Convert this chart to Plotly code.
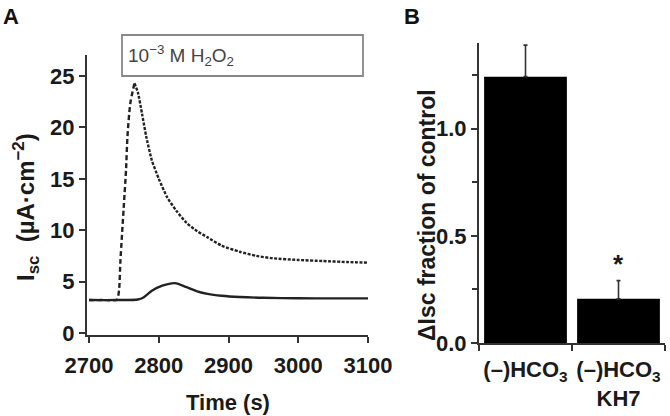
import plotly.graph_objects as go

# ---- Panel A data ----
h2o2_time = [2700, 2720, 2740, 2743, 2745, 2750, 2753, 2755, 2759, 2765, 2770, 2776, 2782,
             2790, 2800, 2812, 2825, 2840, 2855, 2870, 2890, 2916, 2940, 2963, 3000, 3035, 3070, 3100]
h2o2_isc = [3.2, 3.2, 3.25, 4.2, 7.1, 12.6, 15.9, 19.1, 22.3, 24.3, 23.4, 21.3, 19.1,
            16.8, 15.0, 13.2, 11.9, 10.7, 9.9, 9.3, 8.5, 7.9, 7.5, 7.27, 7.1, 7.0, 6.9, 6.84]
peak_index = 9

ctrl_time = [2700, 2740, 2770, 2778, 2790, 2805, 2823, 2840, 2855, 2870, 2890, 2916, 2950, 3000, 3050, 3100]
ctrl_isc = [3.2, 3.2, 3.25, 3.45, 4.1, 4.6, 4.85, 4.45, 4.05, 3.8, 3.62, 3.5, 3.42, 3.37, 3.36, 3.36]

# ---- Panel B data ----
cats = ["(–)HCO<sub>3</sub>", "(–)HCO<sub>3</sub><br>KH7"]
frac = [1.243, 0.206]
frac_err = [0.147, 0.085]

FONT = "Liberation Sans, Arial, sans-serif"
AX = "#333333"

fig = go.Figure()

fig.add_trace(go.Scatter(x=h2o2_time[:peak_index + 1], y=h2o2_isc[:peak_index + 1], mode="lines",
                         line=dict(color="#222", width=2.4, dash="5px,3px", shape="spline", smoothing=0.6),
                         xaxis="x", yaxis="y", showlegend=False))
fig.add_trace(go.Scatter(x=h2o2_time[peak_index:], y=h2o2_isc[peak_index:], mode="lines",
                         line=dict(color="#222", width=2.4, dash="3px,1.5px", shape="spline", smoothing=0.6),
                         xaxis="x", yaxis="y", showlegend=False))
fig.add_trace(go.Scatter(x=ctrl_time, y=ctrl_isc, mode="lines",
                         line=dict(color="#222", width=2.4, shape="spline", smoothing=0.8),
                         xaxis="x", yaxis="y", showlegend=False))

fig.add_trace(go.Bar(x=cats, y=frac, width=0.89, marker=dict(color="black", line=dict(width=0)),
                     error_y=dict(type="data", array=frac_err, arrayminus=[0, 0], symmetric=False,
                                  color="#333", thickness=1.6, width=2),
                     xaxis="x2", yaxis="y2", showlegend=False))

tickfont = dict(family=FONT, size=22, color="#1a1a1a", weight="bold")
common = dict(ticks="outside", ticklen=6, tickwidth=2, tickcolor=AX, showline=True, linecolor=AX,
              linewidth=2, showgrid=False, zeroline=False, tickfont=tickfont, automargin=False,
              tickangle=0)

fig.update_layout(
    width=670, height=416, margin=dict(l=0, r=0, t=0, b=0, autoexpand=False),
    paper_bgcolor="white", plot_bgcolor="white",
    xaxis=dict(domain=[87 / 670, 368 / 670], range=[2697, 3100], anchor="y",
               tickvals=[2700, 2800, 2900, 3000, 3100], ticklabelstandoff=4, **common),
    yaxis=dict(domain=[1 - 335 / 416, 1 - 55 / 416], range=[-0.2, 27.05], anchor="x",
               tickvals=[0, 5, 10, 15, 20, 25], **common),
    xaxis2=dict(domain=[479 / 670, 665 / 670], anchor="y2", tickson="boundaries", ticklabelstandoff=6,
                **common),
    yaxis2=dict(domain=[1 - 343 / 416, 1 - 43 / 416], range=[0, 1.40], anchor="x2",
                tickvals=[0, 0.5, 1.0], ticktext=["0.0", "0.5", "1.0"],
                minor=dict(tickvals=[0.25, 0.75, 1.25], ticks="outside", ticklen=5, tickwidth=2, tickcolor=AX),
                **common),
    shapes=[dict(type="rect", xref="paper", yref="paper",
                 x0=122 / 670, x1=363 / 670, y0=1 - 76 / 416, y1=1 - 35 / 416,
                 line=dict(color="#888", width=1.8), fillcolor="white")],
    annotations=[
        dict(text="A", x=1 / 670, y=1 - 2 / 416, xref="paper", yref="paper", xanchor="left", yanchor="top",
             showarrow=False, font=dict(family=FONT, size=22, color="#111", weight="bold")),
        dict(text="B", x=402 / 670, y=1 - 2 / 416, xref="paper", yref="paper", xanchor="left", yanchor="top",
             showarrow=False, font=dict(family=FONT, size=22, color="#111", weight="bold")),
        dict(text="10<sup>−3</sup> M H<sub>2</sub>O<sub>2</sub>", x=126 / 670, y=1 - 56 / 416,
             xref="paper", yref="paper", xanchor="left", yanchor="middle", showarrow=False,
             font=dict(family=FONT, size=19, color="#444")),
        dict(text="I<sub>sc</sub>  (µA·cm<sup>−2</sup>)", x=26 / 670, y=1 - 207 / 416, xref="paper",
             yref="paper", textangle=-90, showarrow=False, xanchor="center", yanchor="middle",
             font=dict(family=FONT, size=24, color="#1a1a1a", weight="bold")),
        dict(text="Time (s)", x=228 / 670, y=1 - 402 / 416, xref="paper", yref="paper", showarrow=False,
             xanchor="center", yanchor="middle", font=dict(family=FONT, size=22, color="#1a1a1a", weight="bold")),
        dict(text="ΔIsc fraction of control", x=427 / 670, y=1 - 215 / 416, xref="paper", yref="paper",
             textangle=-90, showarrow=False, xanchor="center", yanchor="middle",
             font=dict(family=FONT, size=23, color="#1a1a1a", weight="bold")),
        dict(text="*", x=cats[1], y=0.37, xref="x2", yref="y2", showarrow=False, yanchor="middle",
             font=dict(family=FONT, size=26, color="#1a1a1a", weight="bold")),
    ],
)

fig.write_html("out.html", config={"displayModeBar": False},
               post_script="document.body.style.margin='0';document.body.style.overflow='hidden';")
